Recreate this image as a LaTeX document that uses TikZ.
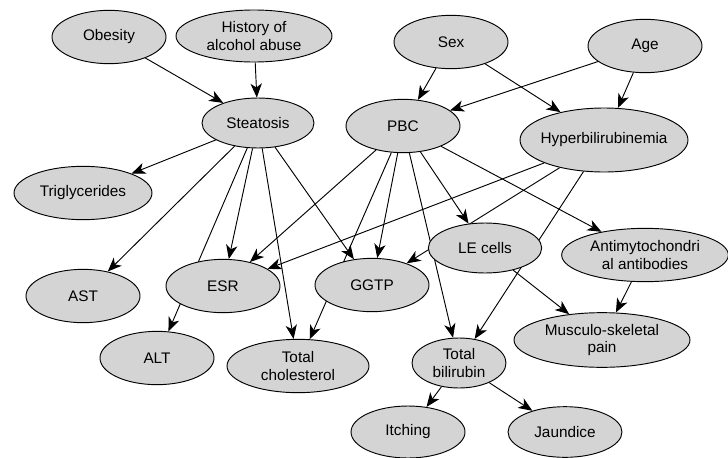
\documentclass[tikz,border=0pt]{standalone}
\usepackage{fontspec}
\setmainfont{Liberation Sans}
\usepackage{xcolor}
\usetikzlibrary{arrows.meta,shapes.geometric,backgrounds}

\definecolor{nodefill}{RGB}{212,212,212}

\begin{document}
\begin{tikzpicture}[
  x=0.75pt, y=-0.75pt,
  font=\fontsize{11.5}{13}\selectfont,
  var/.style={ellipse, draw, fill=nodefill, align=center, inner sep=0pt,
              minimum width=85.5pt, minimum height=40pt, line width=0.7pt},
  ar/.style={-{Stealth[length=10.5pt, width=8.5pt, inset=3pt]}, line width=0.7pt}
]
\useasboundingbox (0,0) rectangle (728,457);

% risk factors
\node[var] (obes) at (109,37) {Obesity};
\node[var, minimum width=117pt, minimum height=39pt] (hist) at (254,36)
  {History of\\alcohol abuse};
\node[var] (sex) at (451,42) {Sex};
\node[var] (age) at (645,46) {Age};

% disorders
\node[var, minimum width=84pt, minimum height=37.5pt] (stea) at (258,123) {Steatosis};
\node[var] (pbc) at (403,126) {PBC};
\node[var, minimum width=126pt, minimum height=48pt, inner xsep=-6pt] (hyper)
  at (604,140) {Hyperbilirubinemia};

% findings
\node[var, minimum width=103.5pt] (trig) at (83,193) {Triglycerides};
\node[var] (ast) at (83,296) {AST};
\node[var] (esr) at (223,286) {ESR};
\node[var] (alt) at (157,358) {ALT};
\node[var, minimum width=106.5pt] (chol) at (298,366) {Total\\cholesterol};
\node[var] (ggtp) at (372,285) {GGTP};
\node[var, minimum width=85pt, minimum height=37.5pt] (le) at (485,248) {LE cells};
\node[var, minimum width=125pt] (anti) at (645,255)
  {Antimytochondri\\al antibodies};
\node[var, minimum width=132pt, minimum height=41pt] (musc) at (602,340)
  {Musculo-skeletal\\pain};
\node[var, minimum width=70.5pt, minimum height=37.5pt] (bili) at (459,363)
  {Total\\bilirubin};
\node[var, minimum height=39pt] (itch) at (408,432) {Itching};
\node[var, minimum height=38pt] (jaun) at (565,432) {Jaundice};

\begin{scope}[on background layer]
\draw[ar] (obes) -- (stea);
\draw[ar] (hist) -- (stea);
\draw[ar] (sex) -- (pbc);
\draw[ar] (sex) -- (hyper);
\draw[ar] (age) -- (pbc);
\draw[ar] (age) -- (hyper);

\draw[ar] (stea) -- (trig);
\draw[ar] (stea) -- (ast);
\draw[ar] (stea) -- (alt);
\draw[ar] (stea) -- (esr);
\draw[ar] (stea) -- (chol);
\draw[ar] (stea) -- (ggtp);

\draw[ar] (pbc) -- (esr);
\draw[ar] (pbc) -- (chol);
\draw[ar] (pbc) -- (ggtp);
\draw[ar] (pbc) -- (bili);
\draw[ar] (pbc) -- (le);
\draw[ar] (pbc) -- (anti);

\draw[ar] (hyper) -- (esr);
\draw[ar] (hyper) -- (ggtp);
\draw[ar] (hyper) -- (bili);

\draw[ar] (le) -- (musc);
\draw[ar] (anti) -- (musc);
\draw[ar] (bili) -- (itch);
\draw[ar] (bili) -- (jaun);
\end{scope}
\end{tikzpicture}
\end{document}
